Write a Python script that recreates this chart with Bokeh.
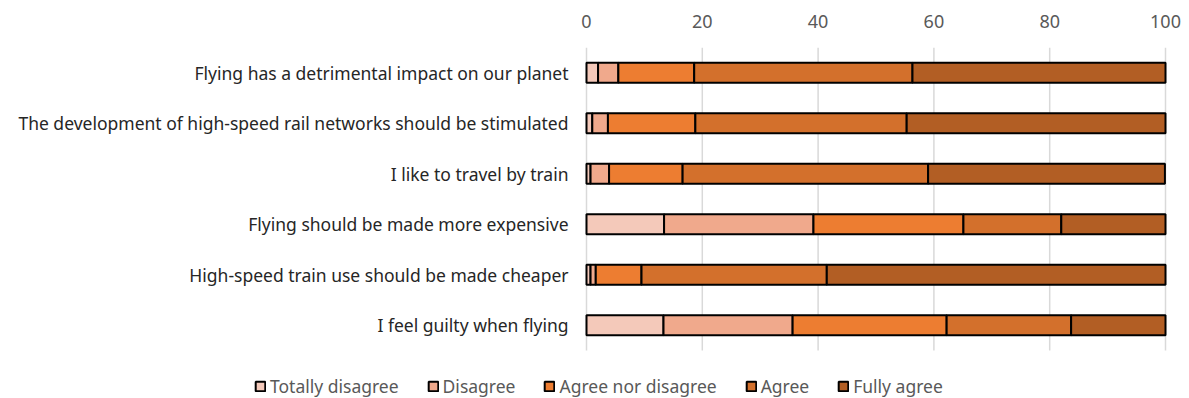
from bokeh.plotting import figure
from bokeh.models import Range1d, Legend, LegendItem, ColumnDataSource
from bokeh.core.properties import value
from bokeh.embed import file_html
from bokeh.resources import INLINE

statements = [
    "Flying has a detrimental impact on our planet",
    "The development of high-speed rail networks should be stimulated",
    "I like to travel by train",
    "Flying should be made more expensive",
    "High-speed train use should be made cheaper",
    "I feel guilty when flying",
]
totally_disagree = [2.0, 1.0, 0.7, 13.4, 0.7, 13.3]
disagree = [3.5, 2.7, 3.2, 25.8, 0.9, 22.3]
agree_nor_disagree = [13.1, 15.1, 12.7, 25.9, 7.9, 26.6]
agree = [37.7, 36.5, 42.4, 16.9, 32.0, 21.5]
fully_agree = [43.7, 44.7, 40.9, 18.0, 58.5, 16.3]
series_names = ["Totally disagree", "Disagree", "Agree nor disagree", "Agree", "Fully agree"]
colors = ["#F4C9BA", "#F0A98C", "#ED7D31", "#D3702C", "#B25E24"]
x_ticks = [0, 20, 40, 60, 80, 100]

n = len(statements)
source = ColumnDataSource({"statement": statements,
                           "row": list(range(n)),
                           "Totally disagree": totally_disagree,
                           "Disagree": disagree,
                           "Agree nor disagree": agree_nor_disagree,
                           "Agree": agree,
                           "Fully agree": fully_agree})

FONT = "Noto Sans"
W, H = 1189, 398
LEFT_PX, RIGHT_PX = 586, 24          # pixel position of value 0 and space right of value 100
TOP_PX, ROWS_PX = 47, 303            # top of the bar area and its height
px_per_unit = (W - LEFT_PX - RIGHT_PX) / 100.0
px_per_row = ROWS_PX / n
frame_h = H - TOP_PX

p = figure(width=W, height=H, output_backend="svg", toolbar_location=None,
           x_range=Range1d(-LEFT_PX / px_per_unit, 100 + RIGHT_PX / px_per_unit),
           y_range=Range1d(-0.5 + frame_h / px_per_row, -0.5),
           x_axis_location="above",
           min_border_left=0, min_border_right=0, min_border_top=TOP_PX,
           min_border_bottom=0)

# vertical gridlines limited to the bar area
p.segment(x0=x_ticks, x1=x_ticks, y0=[-0.5] * len(x_ticks), y1=[n - 0.5] * len(x_ticks),
          line_color="#D9D9D9", line_width=1.5)

renderers = p.hbar_stack(series_names, y="row", height=0.4, source=source,
                         color=colors, line_color="black", line_width=2)

# category labels, right-aligned just left of the value axis origin
p.text(x=0, y="row", text="statement", source=source, x_offset=-18,
       text_align="right", text_baseline="middle", text_font=value(FONT),
       text_font_size="17.5px", text_color="#262626")

p.outline_line_color = None
p.background_fill_color = "white"
p.border_fill_color = "white"
p.grid.grid_line_color = None
p.xaxis.ticker = x_ticks
p.xaxis.axis_line_color = None
p.xaxis.major_tick_line_color = None
p.xaxis.minor_tick_line_color = None
p.xaxis.major_label_text_font = FONT
p.xaxis.major_label_text_font_size = "18px"
p.xaxis.major_label_text_color = "#595959"
p.xaxis.major_label_standoff = 14
p.yaxis.visible = False

items = [LegendItem(label=s, renderers=[r]) for s, r in zip(series_names, renderers)]
legend = Legend(items=items, orientation="horizontal", location=(254, 0),
                label_text_font=FONT, label_text_font_size="17.5px",
                label_text_color="#595959", glyph_width=12, glyph_height=12,
                spacing=28, label_standoff=4, border_line_color=None,
                background_fill_alpha=0, padding=2, margin=0)
p.add_layout(legend, "center")

open("out.html", "w").write(file_html(p, INLINE))
